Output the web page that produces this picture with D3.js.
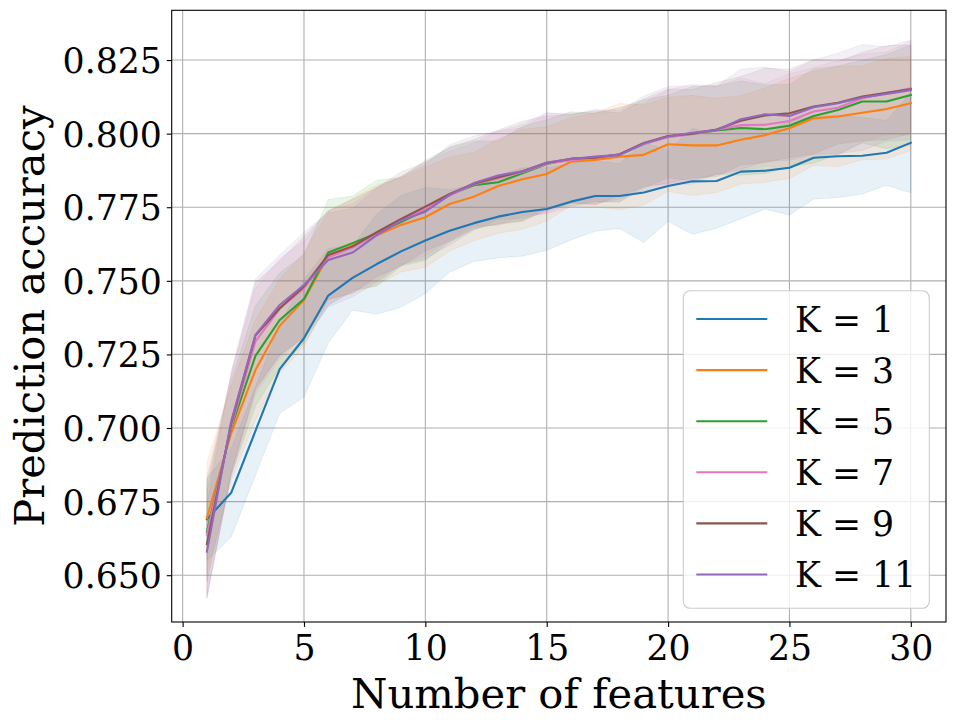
<!DOCTYPE html>
<html>
<head>
<meta charset="utf-8">
<script src="https://cdn.jsdelivr.net/npm/d3@7"></script>
<style>
  body { margin: 0; background: #fff; }
  svg { display: block; }
  text { font-family: "DejaVu Serif", serif; fill: #000; }
</style>
</head>
<body>
<div id="chart"></div>
<script>
// number of features on the x axis
const features = d3.range(1, 31);

const kLabels = ["K = 1", "K = 3", "K = 5", "K = 7", "K = 9", "K = 11"];
const kColors = ["#1f77b4", "#ff7f0e", "#2ca02c", "#e377c2", "#8c564b", "#9467bd"];

// mean accuracy per K
const meanK1 = [0.669, 0.678, 0.699, 0.720, 0.7305, 0.745, 0.751, 0.7557, 0.760, 0.7637,
  0.767, 0.7696, 0.7718, 0.7734, 0.7744, 0.7769, 0.7788, 0.7788, 0.780, 0.7822,
  0.7838, 0.7839, 0.7871, 0.7874, 0.7884, 0.7918, 0.7923, 0.7925, 0.7935, 0.7969];
const meanK3 = [0.6694, 0.6982, 0.7197, 0.7347, 0.7435, 0.7585, 0.762, 0.7655, 0.769, 0.7716,
  0.7761, 0.7786, 0.7822, 0.7845, 0.7863, 0.7905, 0.7911, 0.7922, 0.7928, 0.7964,
  0.796, 0.796, 0.7979, 0.7995, 0.8018, 0.8052, 0.8058, 0.8071, 0.8084, 0.8103];
const meanK5 = [0.6648, 0.700, 0.7245, 0.7367, 0.7438, 0.7596, 0.7628, 0.7662, 0.770, 0.774,
  0.7792, 0.7825, 0.7835, 0.7865, 0.7897, 0.7914, 0.792, 0.7928, 0.7965, 0.799,
  0.800, 0.8011, 0.8019, 0.8015, 0.8027, 0.806, 0.808, 0.8109, 0.8109, 0.8131];
const meanK7 = [0.6637, 0.7005, 0.7294, 0.7405, 0.7475, 0.758, 0.7612, 0.766, 0.7705, 0.7745,
  0.779, 0.7828, 0.7848, 0.787, 0.7898, 0.791, 0.7918, 0.7928, 0.7965, 0.7988,
  0.7998, 0.8013, 0.8029, 0.803, 0.8043, 0.8075, 0.8088, 0.812, 0.8137, 0.8154];
const meanK9 = [0.6605, 0.7015, 0.7314, 0.7407, 0.7481, 0.7588, 0.7617, 0.7665, 0.771, 0.7752,
  0.7795, 0.783, 0.7852, 0.7872, 0.790, 0.7915, 0.7918, 0.793, 0.7968, 0.7992,
  0.800, 0.8014, 0.8044, 0.8062, 0.8069, 0.8092, 0.8105, 0.8126, 0.8139, 0.8151];
const meanK11 = [0.658, 0.7022, 0.7316, 0.7418, 0.7486, 0.7571, 0.7596, 0.7655, 0.7705, 0.7735,
  0.7792, 0.7832, 0.7858, 0.7872, 0.7902, 0.7914, 0.7922, 0.7928, 0.7967, 0.799,
  0.8003, 0.8012, 0.8049, 0.8066, 0.806, 0.809, 0.8103, 0.8123, 0.8135, 0.8148];

// half width of the shaded band (std) per K
const spreadK1 = [0.014, 0.015, 0.015, 0.015, 0.020, 0.016, 0.011, 0.017, 0.019, 0.018,
  0.014, 0.013, 0.014, 0.015, 0.014, 0.013, 0.012, 0.011, 0.017, 0.012,
  0.018, 0.016, 0.016, 0.013, 0.016, 0.014, 0.014, 0.013, 0.011, 0.017];
const spreadK3 = [0.019, 0.016, 0.017, 0.016, 0.016, 0.015, 0.016, 0.017, 0.016, 0.017,
  0.016, 0.015, 0.016, 0.017, 0.016, 0.015, 0.016, 0.018, 0.017, 0.016,
  0.017, 0.016, 0.015, 0.016, 0.017, 0.016, 0.017, 0.016, 0.017, 0.016];
const spreadK5 = [0.017, 0.016, 0.017, 0.016, 0.015, 0.018, 0.016, 0.018, 0.015, 0.017,
  0.016, 0.015, 0.014, 0.016, 0.015, 0.016, 0.015, 0.016, 0.015, 0.014,
  0.016, 0.015, 0.016, 0.015, 0.014, 0.016, 0.015, 0.014, 0.016, 0.017];
const spreadK7 = [0.020, 0.017, 0.018, 0.017, 0.016, 0.016, 0.015, 0.016, 0.015, 0.016,
  0.015, 0.014, 0.016, 0.015, 0.017, 0.016, 0.015, 0.016, 0.014, 0.016,
  0.017, 0.015, 0.016, 0.014, 0.016, 0.015, 0.016, 0.015, 0.014, 0.016];
const spreadK9 = [0.018, 0.017, 0.018, 0.016, 0.017, 0.015, 0.016, 0.015, 0.016, 0.015,
  0.016, 0.015, 0.016, 0.017, 0.016, 0.015, 0.016, 0.014, 0.015, 0.016,
  0.015, 0.016, 0.015, 0.016, 0.015, 0.016, 0.014, 0.015, 0.016, 0.015];
const spreadK11 = [0.016, 0.017, 0.019, 0.017, 0.018, 0.016, 0.015, 0.016, 0.015, 0.016,
  0.017, 0.016, 0.015, 0.016, 0.017, 0.015, 0.016, 0.015, 0.016, 0.017,
  0.016, 0.015, 0.017, 0.016, 0.015, 0.016, 0.017, 0.018, 0.016, 0.017];

const xTicks = [0, 5, 10, 15, 20, 25, 30];
const yTicks = [0.650, 0.675, 0.700, 0.725, 0.750, 0.775, 0.800, 0.825];

const means = [meanK1, meanK3, meanK5, meanK7, meanK9, meanK11];
const spreads = [spreadK1, spreadK3, spreadK5, spreadK7, spreadK9, spreadK11];

const series = kLabels.map((label, i) => ({
    label: label,
    color: kColors[i],
    values: features.map((f, j) => ({ x: f, y: means[i][j], s: spreads[i][j] }))
}));

const width = 956, height = 727;
const margin = { top: 10.3, right: 10, bottom: 105, left: 171.7 };
const innerW = width - margin.left - margin.right;
const innerH = height - margin.top - margin.bottom;

const svg = d3.select("#chart").append("svg")
    .attr("width", width)
    .attr("height", height);

const g = svg.append("g")
    .attr("transform", "translate(" + margin.left + "," + margin.top + ")");

const x = d3.scaleLinear().domain([-0.45, 31.45]).range([0, innerW]);
const y = d3.scaleLinear().domain([0.6341, 0.8419]).range([innerH, 0]);

// grid
g.append("g").selectAll("line").data(xTicks).join("line")
    .attr("x1", d => x(d)).attr("x2", d => x(d))
    .attr("y1", 0).attr("y2", innerH)
    .attr("stroke", "#b0b0b0").attr("stroke-width", 1.1);
g.append("g").selectAll("line").data(yTicks).join("line")
    .attr("x1", 0).attr("x2", innerW)
    .attr("y1", d => y(d)).attr("y2", d => y(d))
    .attr("stroke", "#b0b0b0").attr("stroke-width", 1.1);

// bands
const area = d3.area()
    .x(d => x(d.x))
    .y0(d => y(d.y - d.s))
    .y1(d => y(d.y + d.s));

g.append("g").selectAll("path").data(series).join("path")
    .attr("d", d => area(d.values))
    .attr("fill", d => d.color)
    .attr("fill-opacity", 0.1)
    .attr("stroke", d => d.color)
    .attr("stroke-opacity", 0.1)
    .attr("stroke-width", 1);

// lines
const line = d3.line().x(d => x(d.x)).y(d => y(d.y));

g.append("g").selectAll("path").data(series).join("path")
    .attr("d", d => line(d.values))
    .attr("fill", "none")
    .attr("stroke", d => d.color)
    .attr("stroke-width", 2.1)
    .attr("stroke-linejoin", "round")
    .attr("stroke-linecap", "square");

// axes
const tickFont = "34.7px";

const xAxis = g.append("g")
    .attr("transform", "translate(0," + innerH + ")")
    .call(d3.axisBottom(x).tickValues(xTicks).tickSize(4.9).tickPadding(4.9).tickFormat(d3.format("d")));
const yAxis = g.append("g")
    .call(d3.axisLeft(y).tickValues(yTicks).tickSize(4.9).tickPadding(4.9).tickFormat(d3.format(".3f")));

[xAxis, yAxis].forEach(ax => {
    ax.select(".domain").remove();
    ax.selectAll(".tick line").attr("stroke", "#000").attr("stroke-width", 1.1);
    ax.selectAll(".tick text")
        .style("font-family", "'DejaVu Serif', serif")
        .style("font-size", tickFont)
        .attr("fill", "#000");
});
xAxis.selectAll(".tick text").attr("dy", "0.8em");
yAxis.selectAll(".tick text").attr("dy", "0.36em");

// frame
g.append("rect")
    .attr("width", innerW).attr("height", innerH)
    .attr("fill", "none").attr("stroke", "#000").attr("stroke-width", 1.1);

// axis labels, centred on the axes box
svg.append("text")
    .attr("x", margin.left + innerW / 2)
    .attr("y", 708)
    .attr("text-anchor", "middle")
    .style("font-size", "41.7px")
    .text("Number of features");

svg.append("text")
    .attr("transform", "translate(44," + (margin.top + innerH / 2) + ") rotate(-90)")
    .attr("text-anchor", "middle")
    .style("font-size", "41.7px")
    .text("Prediction accuracy");

// legend
const legend = svg.append("g").attr("transform", "translate(683.3,290.7)");
legend.append("rect")
    .attr("width", 246).attr("height", 317.6)
    .attr("rx", 7).attr("ry", 7)
    .attr("fill", "#fff").attr("fill-opacity", 0.8)
    .attr("stroke", "#cccccc").attr("stroke-width", 1.1);

const item = legend.selectAll(".item").data(series).join("g")
    .attr("class", "item")
    .attr("transform", (d, i) => "translate(0," + (28.3 + i * 51.1) + ")");
item.append("line")
    .attr("x1", 13).attr("x2", 84)
    .attr("stroke", d => d.color).attr("stroke-width", 2.1);
item.append("text")
    .attr("x", 111.7)
    .attr("dy", "0.36em")
    .style("font-size", tickFont)
    .text(d => d.label);
</script>
</body>
</html>
